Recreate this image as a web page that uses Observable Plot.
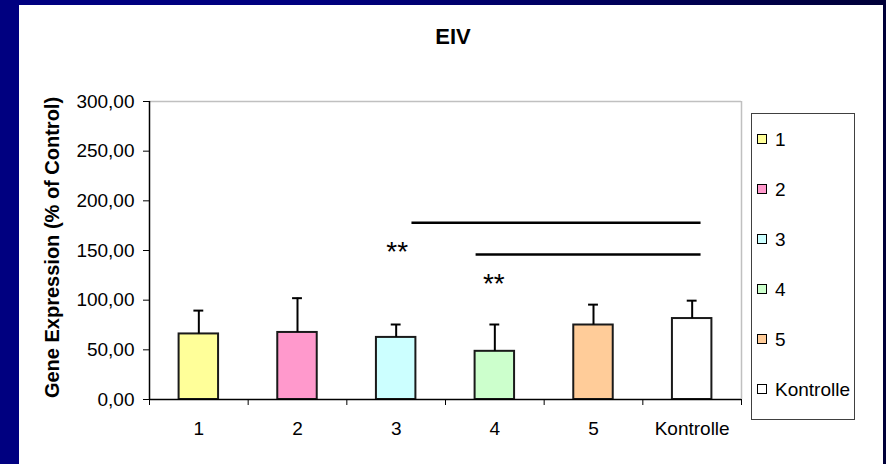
<!DOCTYPE html>
<html>
<head>
<meta charset="utf-8">
<script src="https://cdn.jsdelivr.net/npm/d3@7"></script>
<script src="https://cdn.jsdelivr.net/npm/@observablehq/plot@0.6"></script>
<style>
  html, body { margin: 0; padding: 0; }
  body {
    width: 886px; height: 464px; overflow: hidden; position: relative;
    background: linear-gradient(to right, #000080 0%, #000080 35%, #000038 100%);
    font-family: "Liberation Sans", Arial, sans-serif;
  }
  #panel { position: absolute; left: 19px; top: 5px; width: 864px; height: 459px; background: #fff; }
  #chart { position: absolute; left: 0; top: 0; }
  #title { position: absolute; left: 353px; width: 200px; top: 26px; text-align: center;
           font-weight: bold; font-size: 22px; line-height: 22px; color: #000; }
  #legend { position: absolute; left: 751px; top: 113px; width: 102px; height: 305px;
            border: 1px solid #404040; background: #fff; }
  .row { position: absolute; left: 5px; height: 19px; display: flex; align-items: center;
         font-size: 19px; line-height: 19px; color: #000; white-space: nowrap; }
  .sw { width: 8px; height: 8px; border: 1px solid #000; margin-right: 8px; }
</style>
</head>
<body>
<div id="panel"></div>
<div id="title">EIV</div>
<div id="chart"></div>
<div id="legend"></div>
<script>
// ---- data ----
const categories = ["1", "2", "3", "4", "5", "Kontrolle"];
const means      = [66, 67.5, 62.5, 48.5, 75, 81.5];
const errors     = [23.5, 34.5, 13, 27, 20.5, 18];
const colors     = ["#FFFF99", "#FF99CC", "#CCFFFF", "#CCFFCC", "#FFCC99", "#FFFFFF"];
const yTicks     = [0, 50, 100, 150, 200, 250, 300];
const yLabel     = "Gene Expression (% of Control)";
// significance annotations (x in category-index units, y in data units)
const sigStart   = [2.66, 3.31];
const sigEnd     = [5.59, 5.59];
const sigLevel   = [178, 146];
const starX      = [2.51, 3.49];
const starY      = [156, 123];
const starText   = ["**", "**"];

// ---- tables built from the arrays ----
const bars = categories.map((c, i) => ({i, c, mean: means[i], err: errors[i], color: colors[i]}));
const sig = sigStart.map((s, k) => ({x1: s, x2: sigEnd[k], y: sigLevel[k]}));
const stars = starX.map((x, k) => ({x, y: starY[k], t: starText[k]}));
const boundaries = categories.map((_, i) => i).concat([categories.length]);
const centers = categories.map((_, i) => i + 0.5);

const chart = Plot.plot({
  width: 886, height: 464,
  marginLeft: 149, marginRight: 145, marginTop: 101, marginBottom: 65,
  x: {domain: [0, categories.length]},
  y: {domain: [0, 300]},
  color: {type: "identity"},
  style: {fontFamily: "'Liberation Sans', Arial, sans-serif", fontSize: "19px", background: "transparent", color: "#000"},
  marks: [
    Plot.ruleY([300], {stroke: "#c0c0c0", strokeWidth: 1.5}),
    Plot.ruleX([categories.length], {stroke: "#c0c0c0", strokeWidth: 1.5}),
    Plot.rectY(bars, {x1: d => d.i + 0.3, x2: d => d.i + 0.7, y1: 0, y2: "mean", fill: "color", stroke: "#1a1a1a", strokeWidth: 2}),
    Plot.ruleX(bars, {x: d => d.i + 0.5, y1: "mean", y2: d => d.mean + d.err, stroke: "#000", strokeWidth: 2}),
    Plot.ruleY(bars, {x1: d => d.i + 0.45, x2: d => d.i + 0.55, y: d => d.mean + d.err, stroke: "#000", strokeWidth: 2}),
    Plot.ruleY(sig, {x1: "x1", x2: "x2", y: "y", stroke: "#000", strokeWidth: 2.5}),
    Plot.text(stars, {x: "x", y: "y", text: "t", fontSize: 28, dy: 7, fill: "#000"}),
    Plot.axisY({ticks: yTicks, tickSize: 6, tickPadding: 9, tickFormat: d => d.toFixed(2).replace(".", ","), label: null, fontSize: 19}),
    Plot.axisX({ticks: boundaries, tickSize: 6, tickFormat: () => "", label: null}),
    Plot.axisX({ticks: centers, tickSize: 0, tickPadding: 22, tickFormat: t => categories[Math.floor(t)], label: null, fontSize: 19}),
    Plot.ruleX([0], {stroke: "#000", strokeWidth: 1.5}),
    Plot.ruleY([0], {stroke: "#000", strokeWidth: 1.5}),
    Plot.text([yLabel], {frameAnchor: "left", textAnchor: "middle", lineAnchor: "middle", dx: -97, dy: -3, rotate: -90, fontWeight: "bold", fontSize: 20, fill: "#000"})
  ]
});
document.getElementById("chart").appendChild(chart);

const legend = document.getElementById("legend");
categories.forEach((c, i) => {
  const row = document.createElement("div");
  row.className = "row";
  row.style.top = (15.5 + 50 * i) + "px";
  const sw = document.createElement("span");
  sw.className = "sw";
  sw.style.background = colors[i];
  const lab = document.createElement("span");
  lab.textContent = c;
  row.appendChild(sw);
  row.appendChild(lab);
  legend.appendChild(row);
});
</script>
</body>
</html>
